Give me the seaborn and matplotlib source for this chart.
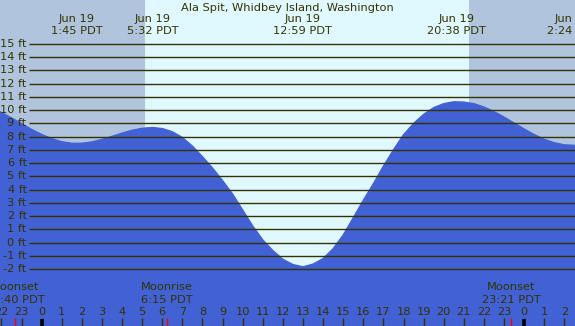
import matplotlib
matplotlib.use("Agg")
import matplotlib.pyplot as plt
import seaborn as sns
import pandas as pd

# ---- data ----
hours = [-2.5, -2.0, -1.5, -1.0, -0.5, 0.0, 0.5, 1.0, 1.5, 2.0, 2.5, 3.0, 3.5, 4.0,
         4.5, 5.0, 5.5, 6.0, 6.5, 7.0, 7.5, 8.0, 8.5, 9.0, 9.5, 10.0, 10.5, 11.0,
         11.5, 12.0, 12.5, 13.0, 13.5, 14.0, 14.5, 15.0, 15.5, 16.0, 16.5, 17.0,
         17.5, 18.0, 18.5, 19.0, 19.5, 20.0, 20.5, 21.0, 21.5, 22.0, 22.5, 23.0,
         23.5, 24.0, 24.5, 25.0, 25.5, 26.0, 26.5, 27.0]
levels = [10.19, 9.84, 9.43, 8.99, 8.56, 8.18, 7.86, 7.63, 7.51, 7.51, 7.61, 7.80,
          8.03, 8.28, 8.49, 8.64, 8.70, 8.62, 8.38, 7.95, 7.30, 6.50, 5.65, 4.70,
          3.68, 2.48, 1.27, 0.22, -0.59, -1.25, -1.65, -1.82, -1.62, -1.20, -0.45,
          0.59, 1.89, 3.21, 4.46, 5.79, 7.02, 8.16, 9.01, 9.69, 10.20, 10.50, 10.64,
          10.62, 10.50, 10.25, 9.90, 9.49, 9.04, 8.59, 8.17, 7.81, 7.55, 7.39, 7.35, 7.37]

title = "Ala Spit, Whidbey Island, Washington"
tide_hours = [1.75, 5.53, 12.98, 20.63, 26.4]
tide_dates = ["Jun 19", "Jun 19", "Jun 19", "Jun 19", "Jun 20"]
tide_times = ["1:45 PDT", "5:32 PDT", "12:59 PDT", "20:38 PDT", "2:24 PDT"]

sunrise_hour = 5.14
sunset_hour = 21.27

moon_hours = [-1.33, 6.25, 23.35]
moon_events = ["Moonset", "Moonrise", "Moonset"]
moon_times = ["22:40 PDT", "6:15 PDT", "23:21 PDT"]

ft_levels = list(range(-2, 16))
ft_labels = [f"{v} ft" for v in ft_levels]

hour_ticks = list(range(-2, 27))
hour_labels = [str(h % 24) for h in hour_ticks]
midnights = [0, 24]

# ---- style ----
WATER = "#4161D4"
NIGHT = "#B0C4DE"
DAY = "#E0F8FF"
INK = "#333300"

sns.set_style("white")
plt.rcParams["font.family"] = ["DejaVu Sans"]
FS = 8.2

fig = plt.figure(figsize=(5.75, 3.26), dpi=100)
ax = fig.add_axes([0, 0, 1, 1])
XMIN, XMAX = -2.07, 26.53
YMIN, YMAX = -6.30, 18.32
ax.set_xlim(XMIN, XMAX)
ax.set_ylim(YMIN, YMAX)
ax.axis("off")

# day / night
ax.axvspan(XMIN - 1, sunrise_hour, color=NIGHT, lw=0, zorder=0)
ax.axvspan(sunrise_hour, sunset_hour, color=DAY, lw=0, zorder=0)
ax.axvspan(sunset_hour, XMAX + 1, color=NIGHT, lw=0, zorder=0)

# water
df = pd.DataFrame({"hour": hours, "level": levels})
ax.fill_between(df["hour"], df["level"], YMIN - 1, color=WATER, lw=0, zorder=1)
sns.lineplot(data=df, x="hour", y="level", color=WATER, lw=0.8, ax=ax, zorder=1)
ax.set_xlim(XMIN, XMAX)
ax.set_ylim(YMIN, YMAX)

# grid lines and labels
ax.hlines(ft_levels, -0.63, XMAX + 1, color=INK, lw=1.0, zorder=2)
for v, lab in zip(ft_levels, ft_labels):
    ax.text(-0.74, v, lab, ha="right", va="center", fontsize=FS, color=INK, zorder=3)

# title and tide events
ax.text(0.5, 17.75, title, ha="center", va="center", fontsize=FS, color=INK, zorder=3,
        transform=ax.get_yaxis_transform())
for h, d, t in zip(tide_hours, tide_dates, tide_times):
    ax.text(h, 16.89, d, ha="center", va="center", fontsize=FS, color=INK, zorder=3)
    ax.text(h, 15.98, t, ha="center", va="center", fontsize=FS, color=INK, zorder=3)

# moon events
for h, e, t in zip(moon_hours, moon_events, moon_times):
    ax.text(h, -3.35, e, ha="center", va="center", fontsize=FS, color=INK, zorder=3)
    ax.text(h, -4.34, t, ha="center", va="center", fontsize=FS, color=INK, zorder=3)

# hour ticks
for h, lab in zip(hour_ticks, hour_labels):
    ax.text(h, -5.24, lab, ha="center", va="center", fontsize=FS, color=INK, zorder=3)
ax.vlines(hour_ticks, YMIN - 1, -5.72, color=INK, lw=1.0, zorder=3)
ax.vlines(midnights, YMIN - 1, -5.76, color="black", lw=2.6, zorder=3)
ax.vlines(moon_hours, YMIN - 1, -5.72, color="red", lw=1.0, zorder=4)

fig.savefig("out.png", dpi=100)
